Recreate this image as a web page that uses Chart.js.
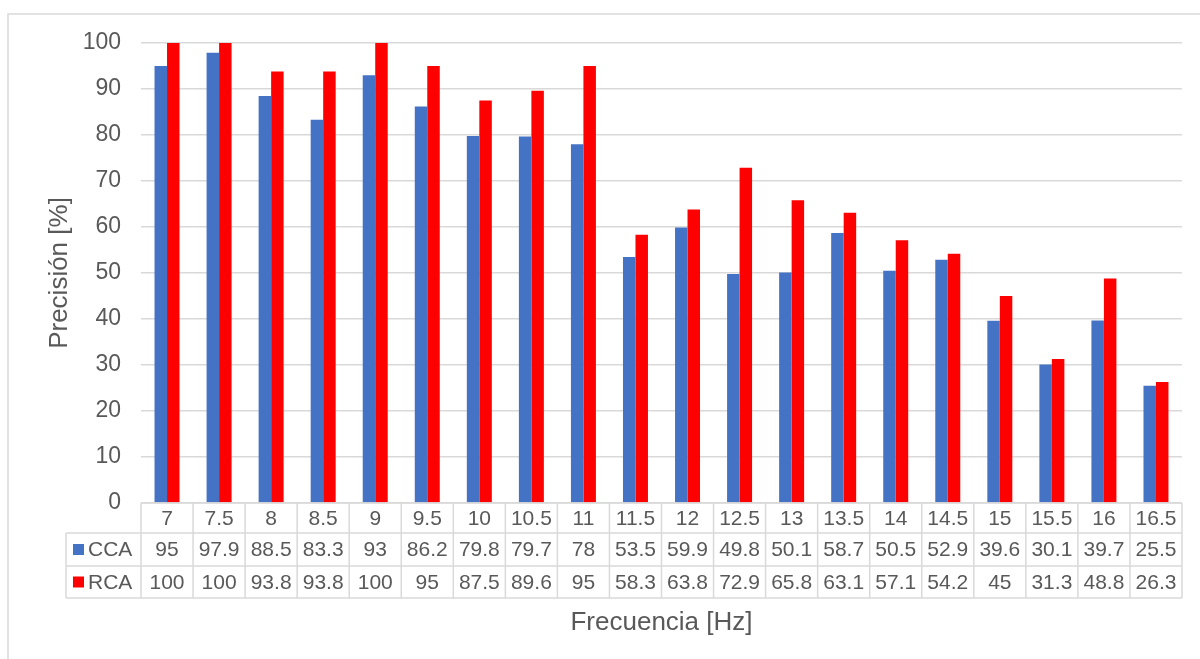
<!DOCTYPE html>
<html>
<head>
<meta charset="utf-8">
<script src="https://cdn.jsdelivr.net/npm/chart.js@4"></script>
<style>
  html, body { margin: 0; padding: 0; background: #fff; }
  #wrap { width: 1200px; height: 659px; }
</style>
</head>
<body>
<div id="wrap"><canvas id="myChart" width="1200" height="659"></canvas></div>
<script>
// Data
const frecuencias = ['7', '7.5', '8', '8.5', '9', '9.5', '10', '10.5', '11', '11.5',
                     '12', '12.5', '13', '13.5', '14', '14.5', '15', '15.5', '16', '16.5'];
const cca = [95, 97.9, 88.5, 83.3, 93, 86.2, 79.8, 79.7, 78, 53.5,
             59.9, 49.8, 50.1, 58.7, 50.5, 52.9, 39.6, 30.1, 39.7, 25.5];
const rca = [100, 100, 93.8, 93.8, 100, 95, 87.5, 89.6, 95, 58.3,
             63.8, 72.9, 65.8, 63.1, 57.1, 54.2, 45, 31.3, 48.8, 26.3];
const seriesNames = ['CCA', 'RCA'];
const seriesColors = ['#4472C4', '#FF0000'];
const yTitle = 'Precisión [%]';
const xTitle = 'Frecuencia [Hz]';

const FONT = "'Liberation Sans', Arial, sans-serif";
const GREY = '#595959';
const LINE = '#d9d9d9';

// draws the frame and the data table under the plot
const tablePlugin = {
  id: 'dataTable',
  beforeDraw(chart) {
    const ctx = chart.ctx;
    ctx.save();
    ctx.fillStyle = '#fff';
    ctx.fillRect(0, 0, chart.width, chart.height);
    ctx.strokeStyle = LINE;
    ctx.lineWidth = 1.5;
    ctx.strokeRect(8, 14, 1220, 700);
    ctx.restore();
  },
  afterDraw(chart) {
    const ctx = chart.ctx;
    const x = chart.scales.x;
    const n = frecuencias.length;
    const w = (x.right - x.left) / n;
    const top = chart.chartArea.bottom;
    const rows = [top, top + 30, top + 63, top + 95];
    const legLeft = 66;

    ctx.save();
    ctx.strokeStyle = LINE;
    ctx.lineWidth = 1.5;
    ctx.beginPath();
    // horizontal lines
    ctx.moveTo(x.left, rows[0]); ctx.lineTo(x.right, rows[0]);
    for (let r = 1; r < rows.length; r++) {
      ctx.moveTo(legLeft, rows[r]); ctx.lineTo(x.right, rows[r]);
    }
    // vertical lines
    for (let i = 0; i <= n; i++) {
      const px = x.left + i * w;
      ctx.moveTo(px, rows[0]); ctx.lineTo(px, rows[3]);
    }
    ctx.moveTo(legLeft, rows[1]); ctx.lineTo(legLeft, rows[3]);
    ctx.stroke();

    ctx.fillStyle = GREY;
    ctx.font = '21px ' + FONT;
    ctx.textAlign = 'center';
    ctx.textBaseline = 'middle';
    const series = [cca, rca];
    for (let i = 0; i < n; i++) {
      const cx = x.getPixelForValue(i);
      ctx.fillText(frecuencias[i], cx, (rows[0] + rows[1]) / 2 + 1);
      for (let s = 0; s < series.length; s++) {
        ctx.fillText(String(series[s][i]), cx, (rows[s + 1] + rows[s + 2]) / 2 + 1);
      }
    }
    // legend keys
    ctx.textAlign = 'left';
    for (let s = 0; s < seriesNames.length; s++) {
      const cy = (rows[s + 1] + rows[s + 2]) / 2;
      ctx.fillStyle = seriesColors[s];
      ctx.fillRect(73, cy - 5.5, 11, 11);
      ctx.fillStyle = GREY;
      ctx.fillText(seriesNames[s], 88, cy + 1);
    }
    ctx.restore();
  }
};

new Chart(document.getElementById('myChart'), {
  type: 'bar',
  data: {
    labels: frecuencias,
    datasets: [
      { label: seriesNames[0], data: cca, backgroundColor: seriesColors[0] },
      { label: seriesNames[1], data: rca, backgroundColor: seriesColors[1] }
    ]
  },
  options: {
    responsive: false,
    animation: false,
    layout: { padding: { top: 43, right: 18, left: 0, bottom: 0 } },
    datasets: { bar: { categoryPercentage: 0.48, barPercentage: 1.0 } },
    plugins: { legend: { display: false }, tooltip: { enabled: false } },
    scales: {
      x: {
        grid: { display: false },
        border: { display: false },
        ticks: { display: false },
        title: {
          display: true,
          text: xTitle,
          color: GREY,
          font: { family: FONT, size: 26 },
          padding: { top: 0, bottom: 21 }
        },
        afterFit: (scale) => { scale.height = 156; }
      },
      y: {
        min: 0,
        max: 100,
        ticks: { stepSize: 10, color: GREY, padding: 20, font: { family: FONT, size: 23 } },
        grid: { color: LINE, lineWidth: 1.5, drawTicks: false },
        border: { display: false },
        title: {
          display: true,
          text: yTitle,
          color: GREY,
          font: { family: FONT, size: 26 },
          padding: { top: 44, bottom: 0 }
        },
        afterFit: (scale) => { scale.width = 141; }
      }
    }
  },
  plugins: [tablePlugin]
});
</script>
</body>
</html>
